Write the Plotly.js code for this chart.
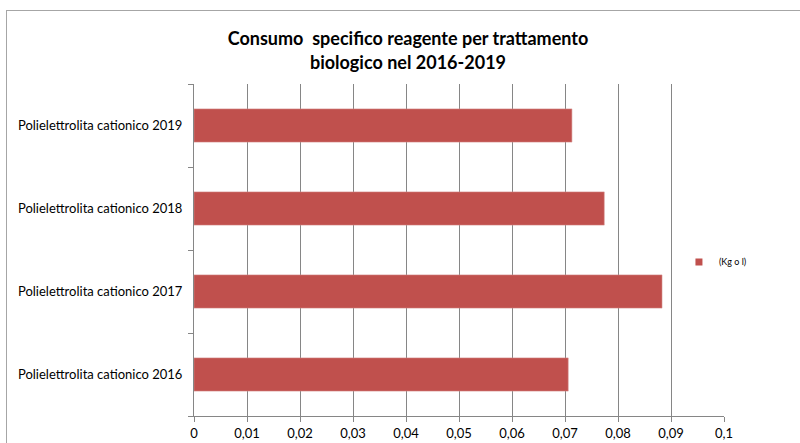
<!DOCTYPE html>
<html>
<head>
<meta charset="utf-8">
<script src="https://cdn.plot.ly/plotly-3.0.1.min.js"></script>
<style>
  html, body { margin: 0; padding: 0; background: #ffffff; }
  #wrap { position: relative; width: 800px; height: 443px; overflow: hidden; }
  #chart { width: 800px; height: 443px; }
  #frame { position: absolute; left: 6px; top: 10px; width: 820px; height: 460px;
           border: 1px solid #a6a6a6; pointer-events: none; }
</style>
</head>
<body>
<div id="wrap">
  <div id="chart"></div>
  <div id="frame"></div>
</div>
<script>
const categories = ["Polielettrolita cationico 2016", "Polielettrolita cationico 2017",
                    "Polielettrolita cationico 2018", "Polielettrolita cationico 2019"];
const values = [0.0706, 0.0883, 0.0774, 0.0713];
const seriesName = "(Kg o l)";
const titleText = "Consumo  specifico reagente per trattamento<br>biologico nel 2016-2019";

const barColor = "#C0504D";
const gridColor = "#868686";
const font = "Lato, 'Liberation Sans', sans-serif";

const traces = [
  {
    type: "bar",
    orientation: "h",
    y: categories,
    x: values,
    width: 0.4,
    marker: { color: barColor, line: { color: "#d38a88", width: 0.6 } },
    showlegend: false,
    name: seriesName,
    hoverinfo: "x+y"
  },
  {
    type: "scatter",
    mode: "markers",
    x: [null],
    y: [null],
    name: seriesName,
    marker: { symbol: "square", size: 7, color: barColor },
    showlegend: true
  }
];

const layout = {
  width: 800,
  height: 443,
  margin: { l: 194, r: 76, t: 84, b: 27 },
  paper_bgcolor: "rgba(0,0,0,0)",
  plot_bgcolor: "rgba(0,0,0,0)",
  separators: ",.",
  font: { family: font, color: "#000000", size: 13 },
  title: {
    text: titleText,
    font: { family: font, size: 18, weight: "bold", color: "#000000" },
    x: 0.51, xanchor: "center", xref: "container",
    y: 0.898, yanchor: "middle", yref: "container"
  },
  xaxis: {
    range: [0, 0.1],
    dtick: 0.01,
    tick0: 0,
    showgrid: true,
    gridcolor: gridColor,
    gridwidth: 1,
    zeroline: false,
    showline: true,
    linecolor: gridColor,
    ticks: "outside",
    ticklen: 5,
    tickcolor: gridColor,
    tickfont: { family: font, size: 13, color: "#000000" },
    fixedrange: true
  },
  yaxis: {
    type: "category",
    categoryorder: "array",
    categoryarray: categories,
    showgrid: false,
    zeroline: false,
    showline: true,
    linecolor: gridColor,
    ticks: "outside",
    tickson: "boundaries",
    ticklen: 5,
    tickcolor: gridColor,
    ticklabelstandoff: 8,
    tickfont: { family: font, size: 13, color: "#000000" },
    fixedrange: true
  },
  legend: {
    x: 0.915, xanchor: "left",
    y: 0.464, yanchor: "middle",
    bgcolor: "rgba(0,0,0,0)",
    font: { family: font, size: 9, color: "#000000" },
    itemwidth: 30
  },
  bargap: 0.6
};

Plotly.newPlot("chart", traces, layout, { displayModeBar: false, staticPlot: true });
</script>
</body>
</html>
